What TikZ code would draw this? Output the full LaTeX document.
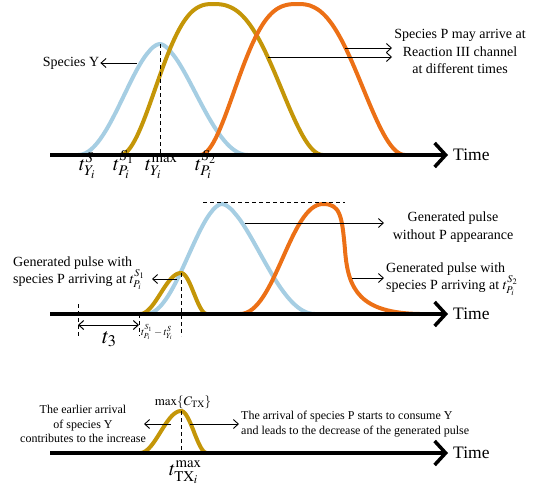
\documentclass[tikz,border=0pt]{standalone}
\usepackage{mathptmx}
\usepackage{fontspec}
\setmainfont{Liberation Serif}
\usetikzlibrary{arrows.meta}
\definecolor{cblue}{RGB}{166,206,227}
\definecolor{cgold}{RGB}{196,150,8}
\definecolor{corange}{RGB}{236,112,22}
% #1 style, #2 x start, #3 x peak, #4 x end, #5 base y, #6 peak y, #7 left exponent, #8 right exponent
\newcommand{\bellcurve}[8]{%
  \draw[#1] plot[domain=0:0.9999,samples=45,variable=\s]
    ({#3+(#2-#3)*(1-\s)},{#6+(#5-#6)*(1-cos(180*pow(1-\s,#7)))/2})
  -- plot[domain=0.0001:1,samples=45,variable=\s]
    ({#3+(#4-#3)*\s},{#6+(#5-#6)*(1-cos(180*pow(\s,#8)))/2});}
\begin{document}
\begin{tikzpicture}[x=1pt,y=-1pt,
  crv/.style={line width=4pt,line cap=round},
  ax/.style={line width=3.5pt,-{Straight Barb[length=11pt,width=24pt]}},
  ptr/.style={line width=0.9pt,-{Straight Barb[length=5pt,width=9pt]}},
  dptr/.style={line width=1pt,{Straight Barb[length=5pt,width=9pt]}-{Straight Barb[length=5pt,width=9pt]}},
  dsh/.style={line width=0.9pt,dash pattern=on 4pt off 3pt},
  timelbl/.style={font=\fontsize{17.5}{20}\selectfont,anchor=west,inner sep=0pt},
  txt/.style={font=\fontsize{14}{17.5}\selectfont,inner sep=1pt},
  stxt/.style={font=\fontsize{12}{14.5}\selectfont,inner sep=1pt},
  mlbl/.style={font=\fontsize{20}{24}\selectfont,anchor=base west,inner sep=0pt}]
\useasboundingbox (0,0) rectangle (543,491);

% ---------- panel 1 ----------
\bellcurve{crv,cblue}{78}{160}{248}{155}{44}{0.9}{0.85}
\bellcurve{crv,cgold}{120}{213}{323}{155}{4}{1.3}{1.3}
\bellcurve{crv,corange}{200}{298}{405}{155}{4}{1.4}{1.25}
\coordinate (A1s) at (50,155);
\coordinate (A1e) at (448,155);
\draw[ax] (A1s) -- (A1e);
\node[timelbl] (T1) at (453,155) {Time};
\coordinate (Ypk) at (160,44);
\coordinate (Ybs) at (160,155);
\draw[dsh] (Ypk) -- (Ybs);
\node[txt] (spY) at (71,63) {Species Y};
\coordinate (cY) at (137,63);
\draw[ptr] (cY) -- (spY.east);
\node[txt,align=center] (spP) at (460,51.5) {Species P may arrive at\\Reaction III channel\\at different times};
\coordinate (cO1) at (345,48);
\coordinate (cG1) at (268,57);
\coordinate (eO1) at (392,48);
\coordinate (eG1) at (392,57);
\draw[ptr] (cO1) -- (eO1);
\draw[ptr] (cG1) -- (eG1);
\node[mlbl] (l1) at (79,170) {$t^{S}_{Y_i}$};
\node[mlbl] (l2) at (113,170) {$t^{S_1}_{P_i}$};
\node[mlbl] (l3) at (145,170) {$t^{\mathrm{max}}_{Y_i}$};
\node[mlbl] (l4) at (195,170) {$t^{S_2}_{P_i}$};

% ---------- panel 2 ----------
\bellcurve{crv,cblue}{146}{222}{315}{314}{204}{0.9}{0.85}
\bellcurve{crv,cgold}{140}{181}{207}{314}{273}{1}{1}
\draw[crv,corange] (240,314) .. controls (275,314) and (290,204) .. (323,204)
  .. controls (340,204) and (342,215) .. (345,250)
  .. controls (348,290) and (360,313) .. (420,314);
\coordinate (A2s) at (50,314);
\coordinate (A2e) at (448,314);
\draw[ax] (A2s) -- (A2e);
\node[timelbl] (T2) at (453,314) {Time};
\coordinate (D1) at (203,202);
\coordinate (D2) at (345,202);
\draw[dsh] (D1) -- (D2);
\coordinate (Gpk2) at (181,273);
\coordinate (Gb2) at (181,336);
\draw[dsh] (Gpk2) -- (Gb2);
\coordinate (La) at (78,304);
\coordinate (Lb) at (78,336);
\draw[dsh] (La) -- (Lb);
\coordinate (Ma) at (139,314);
\coordinate (Mb) at (139,336);
\draw[dsh] (Ma) -- (Mb);
\coordinate (t3a) at (78,325);
\coordinate (t3b) at (139,325);
\draw[dptr] (t3a) -- (t3b);
\node[mlbl,font=\fontsize{22}{26}\selectfont] (t3) at (102,343) {$t_3$};
\node[anchor=base west,inner sep=0pt,font=\fontsize{10.5}{12}\selectfont] (dl) at (141,335) {$t^{S_1}_{P_i}-t^{S}_{Y_i}$};

\node[txt,align=left,anchor=west] (g1) at (12,273) {Generated pulse with\\species P arriving at $t^{S_1}_{P_i}$};
\coordinate (cG2) at (177,279);
\coordinate (eG2) at (152,279);
\draw[ptr] (cG2) -- (eG2);

\node[txt,align=center] (wo) at (453,227) {Generated pulse\\without P appearance};
\coordinate (cB2) at (245,223);
\coordinate (eB2) at (384,223);
\draw[ptr] (cB2) -- (eB2);

\node[txt,align=left,anchor=west] (g2) at (385,279) {Generated pulse with\\species P arriving at $t^{S_2}_{P_i}$};
\coordinate (cO2) at (352,278);
\coordinate (eO2) at (384,278);
\draw[ptr] (cO2) -- (eO2);

% ---------- panel 3 ----------
\bellcurve{crv,cgold}{140}{181}{207}{453}{411}{1}{1}
\coordinate (A3s) at (50,453);
\coordinate (A3e) at (448,453);
\draw[ax] (A3s) -- (A3e);
\node[timelbl] (T3) at (453,453) {Time};
\coordinate (Gpk3) at (181,411);
\coordinate (Gb3) at (181,453);
\draw[dsh] (Gpk3) -- (Gb3);
\node[inner sep=0pt,font=\fontsize{13}{15}\selectfont] (mx) at (183,402) {$\max\{C_{\mathrm{TX}}\}$};
\node[stxt,align=center] (ltx) at (83,424) {The earlier arrival\\of species Y\\contributes to the increase};
\node[stxt,align=left,anchor=west] (rtx) at (240,424) {The arrival of species P starts to consume Y\\and leads to the decrease of the generated pulse};
\coordinate (cL3) at (171,424);
\coordinate (eL3) at (144,424);
\draw[ptr] (cL3) -- (eL3);
\coordinate (cR3) at (190,424);
\coordinate (eR3) at (239,424);
\draw[ptr] (cR3) -- (eR3);
\node[mlbl] (tmx) at (169,475) {$t^{\mathrm{max}}_{\mathrm{TX}_i}$};
\end{tikzpicture}
\end{document}
